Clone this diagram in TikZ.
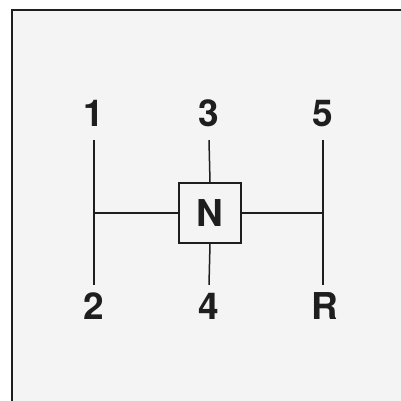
\documentclass[tikz,border=0pt]{standalone}
\usepackage{fontspec}
\setmainfont{TeX Gyre Heros}
\definecolor{panel}{HTML}{F4F4F4}
\definecolor{ink}{HTML}{1E1E1E}
\begin{document}
\begin{tikzpicture}[x=1pt,y=1pt]
    \tikzstyle{gear}=[font=\bfseries\fontsize{37}{40}\selectfont,text=ink,inner xsep=0pt,text height=27pt,text depth=0pt,anchor=base]
    \tikzstyle{upper}=[inner ysep=13pt]
    \tikzstyle{lower}=[inner ysep=8pt]
    \tikzstyle{gate}=[draw=ink,line width=1.4pt,fill=panel,minimum width=62pt,minimum height=60pt,inner sep=0pt,font=\bfseries\fontsize{37}{40}\selectfont,text=ink]
    \tikzstyle{rod} = [draw=ink, line width=1.5pt]

    \def\xa{94}
    \def\xb{209}
    \def\xc{323}
    \def\ytop{274}
    \def\ybot{81}

    \useasboundingbox (0,0) rectangle (401,401);
    \fill[white] (0,0) rectangle (401,401);
    \fill[panel] (12,0) rectangle (401,391);
    \draw[ink,line width=2.4pt] (12,0) -- (12,391) -- (401,391);

    \node[gear,upper] (g1) at (\xa,\ytop) {1};
    \node[gear,upper] (g3) at (\xb,\ytop) {3};
    \node[gear,upper] (g5) at (\xc,\ytop) {5};
    \node[gear,lower] (g2) at (\xa,\ybot) {2};
    \node[gear,lower] (g4) at (\xb,\ybot) {4};
    \node[gear,lower] (gR) at (\xc+2,\ybot) {R};

    \node[gate] (N) at (210,188) {N};

   \draw [rod] (g1.south) -- (g2.north);
   \draw [rod] (g5.south) -- (g5.south |- gR.north);
   \draw [rod] (g3.south) -- (N.north);
   \draw [rod] (N.south) -- (g4.north);
   \draw [rod] (N.west) -- (N.west -| g1.south);
   \draw [rod] (N.east) -- (N.east -| g5.south);

\end{tikzpicture}
\end{document}
